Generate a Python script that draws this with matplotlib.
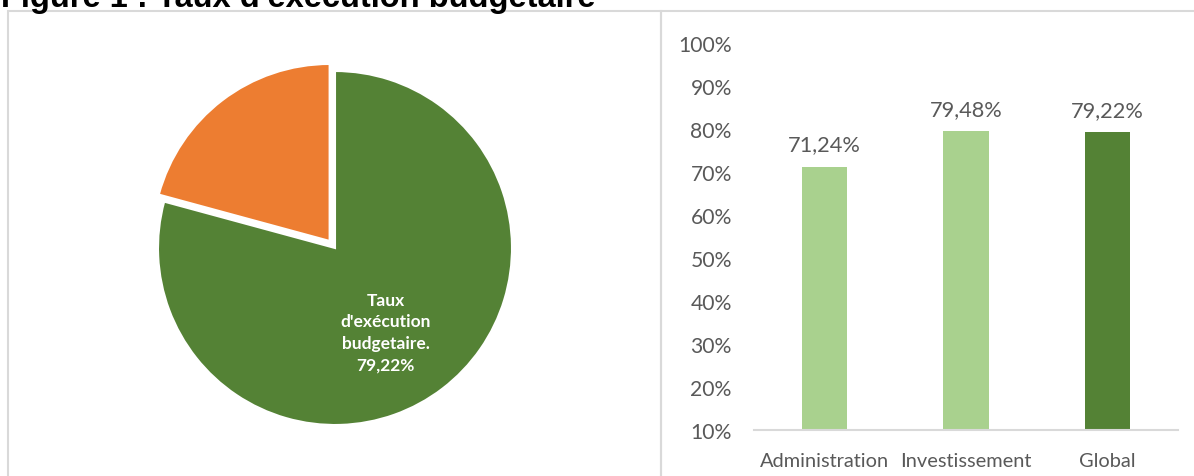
import matplotlib
matplotlib.use("Agg")
import matplotlib.pyplot as plt
from matplotlib.patches import Rectangle
from matplotlib.ticker import PercentFormatter

# données
titre = "Figure 1 : Taux d'exécution budgetaire"
parts_pie = [79.22, 20.78]
couleurs_pie = ["#548235", "#ED7D31"]
label_pie = "Taux\nd'exécution\nbudgetaire.\n79,22%"

categories = ["Administration", "Investissement", "Global"]
taux = [0.7124, 0.7948, 0.7922]
taux_labels = ["71,24%", "79,48%", "79,22%"]
couleurs_barres = ["#A9D18E", "#A9D18E", "#548235"]
yticks = [0.1, 0.2, 0.3, 0.4, 0.5, 0.6, 0.7, 0.8, 0.9, 1.0]

W, H = 1194, 477
gris = "#595959"
plt.rcParams['font.family'] = ['Lato', 'DejaVu Sans']

fig = plt.figure(figsize=(W / 100, H / 100), dpi=100)

# cadres des deux graphiques
bord = "#D9D9D9"
fig.add_artist(Rectangle((8 / W, -0.1), (661 - 8) / W, 1.1 - 12 / H,
                         transform=fig.transFigure, fill=False, ec=bord, lw=1.5))
fig.add_artist(Rectangle((661 / W, -0.1), (W + 10 - 661) / W, 1.1 - 12 / H,
                         transform=fig.transFigure, fill=False, ec=bord, lw=1.5))

# titre (coupé en haut comme dans l'original)
fig.text(1 / W, 1 - 6.5 / H, titre, fontsize=23.5, fontweight='bold',
         family='Liberation Sans', va='baseline', ha='left', color='black')

# --- camembert ---
cx, cy, r = 335, 249, 177
taille = 420
ax1 = fig.add_axes([(cx - taille / 2) / W, (H - cy - taille / 2) / H, taille / W, taille / H])
ax1.pie(parts_pie, colors=couleurs_pie, startangle=90, counterclock=False,
        explode=[0, 0.05], radius=1,
        wedgeprops=dict(edgecolor='white', linewidth=1.5))
lim = taille / 2 / r
ax1.set_xlim(-lim, lim)
ax1.set_ylim(-lim, lim)
ax1.set_aspect('equal')
ax1.axis('off')
ax1.text(0.285, -0.475, label_pie, ha='center', va='center', color='white',
         fontsize=12.5, fontweight='bold', linespacing=1.42)

# --- barres ---
x0, x1, yb, yt = 754, 1178, 431, 44
ax2 = fig.add_axes([x0 / W, (H - yb) / H, (x1 - x0) / W, (yb - yt) / H])
pos = range(len(categories))
ax2.bar(pos, taux, width=0.32, color=couleurs_barres)
for p, v, t in zip(pos, taux, taux_labels):
    ax2.annotate(t, (p, v), xytext=(0, 16), textcoords='offset points',
                 ha='center', va='center', fontsize=15.7, color=gris)
ax2.set_xlim(-0.5, len(categories) - 0.5)
ax2.set_ylim(0.1, 1.0)
ax2.set_yticks(yticks)
ax2.yaxis.set_major_formatter(PercentFormatter(1.0, decimals=0))
ax2.set_xticks(list(pos))
ax2.set_xticklabels(categories)
ax2.tick_params(axis='y', length=0, pad=16, labelsize=15.2, labelcolor=gris)
ax2.tick_params(axis='x', length=0, pad=16, labelsize=14.4, labelcolor=gris)
for s in ['top', 'right', 'left']:
    ax2.spines[s].set_visible(False)
ax2.spines['bottom'].set_color(bord)
ax2.spines['bottom'].set_linewidth(1.5)
ax2.patch.set_alpha(0)

fig.savefig("out.png", dpi=100)
